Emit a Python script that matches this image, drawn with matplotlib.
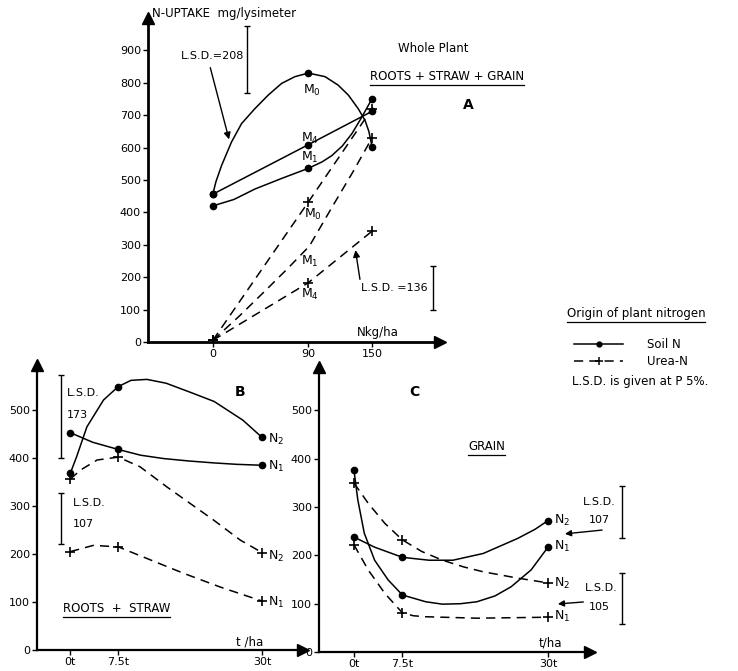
import matplotlib
matplotlib.use("Agg")
import matplotlib.pyplot as plt
from matplotlib.lines import Line2D

plt.rcParams['font.family'] = ['DejaVu Sans']
plt.rcParams['font.size'] = 8

# ---- panel A : whole plant, N-uptake (mg/lysimeter) vs N kg/ha
a_rates = [0, 90, 150]
a_soil_m0 = [456, 830, 603]
a_soil_m4 = [456, 609, 712]
a_soil_m1 = [420, 536, 751]
a_urea_m0 = [5, 432, 720]
a_urea_m4 = [5, 183, 342]
a_urea_m1_x = [0, 150]
a_urea_m1 = [5, 630]

# traced curve shapes between the measured points
a_soil_m0_cx = [0, 3, 8.2, 17.6, 27.1, 39.6, 52.2, 64.8, 77.4, 90,
                105.7, 118, 127.7, 137, 143.4, 147, 150]
a_soil_m0_cy = [456, 495, 544, 617, 674, 720, 762, 798, 819, 830,
                819, 793, 762, 720, 684, 650, 603]
a_soil_m1_cx = [0, 20, 39.6, 65, 90, 103, 112, 122, 131, 140, 150]
a_soil_m1_cy = [420, 440, 472, 505, 536, 556, 575, 605, 643, 692, 751]
a_urea_m1_cx = [0, 25, 50, 70, 91, 113, 132, 150]
a_urea_m1_cy = [5, 80, 160, 225, 296, 420, 525, 630]

# ---- panel B : roots + straw, vs t/ha
b_rates = [0, 7.5, 30]
b_soil_n2 = [368, 549, 443]
b_soil_n1 = [453, 418, 385]
b_urea_n2 = [356, 402, 203]
b_urea_n1 = [205, 215, 102]

b_soil_n2_cx = [0, 1, 2.6, 5.2, 7.5, 9.5, 12, 15, 19, 22.5, 27, 30]
b_soil_n2_cy = [368, 403, 465, 521, 549, 562, 564, 556, 536, 518, 479, 443]
b_soil_n1_cx = [0, 3.5, 7.5, 11, 14.6, 18.5, 22.4, 26, 30]
b_soil_n1_cy = [453, 433, 418, 406, 399, 394, 390, 387, 385]
b_urea_n2_cx = [0, 1.6, 4.2, 7.5, 10.9, 15.1, 18.8, 22.4, 26.6, 30]
b_urea_n2_cy = [356, 375, 396, 402, 382, 340, 305, 271, 229, 203]
b_urea_n1_cx = [0, 3.6, 7.5, 12.5, 17.7, 23.5, 30]
b_urea_n1_cy = [205, 218, 215, 188, 160, 131, 102]

# ---- panel C : grain, vs t/ha
c_rates = [0, 7.5, 30]
c_soil_n2 = [238, 196, 272]
c_soil_n1 = [377, 118, 217]
c_urea_n2 = [350, 232, 143]
c_urea_n1 = [222, 81, 72]

c_soil_n1_cx = [0, 0.6, 1.6, 3.2, 5.3, 7.5, 11.1, 13.7, 16.5, 19, 21.8, 24.3, 27.4, 30]
c_soil_n1_cy = [377, 315, 246, 190, 149, 118, 104, 99, 100, 104, 116, 135, 170, 217]
c_soil_n2_cx = [0, 3.2, 7.5, 11.6, 15.3, 20, 25.3, 28, 30]
c_soil_n2_cy = [238, 217, 196, 190, 190, 204, 235, 254, 272]
c_urea_n2_cx = [0, 2.2, 4.8, 7.5, 10.5, 13.7, 17, 20, 25.3, 30]
c_urea_n2_cy = [350, 308, 266, 232, 208, 190, 176, 166, 153, 143]
c_urea_n1_cx = [0, 2.2, 4.8, 7.5, 9.2, 11.1, 19, 30]
c_urea_n1_cy = [222, 170, 121, 81, 75, 73, 70, 72]

DASH = (0, (6, 4))


def curve(ax, x, y, dashed=False):
    ax.plot(x, y, color='k', lw=1.1, ls=DASH if dashed else '-',
            solid_joinstyle='round', dash_joinstyle='round')


def points(ax, x, y, marker, mfc='k'):
    if marker == 'o':
        ax.plot(x, y, ls='none', marker='o', ms=4.5, color='k', mfc=mfc)
    else:
        ax.plot(x, y, ls='none', marker='+', ms=7, mew=1.2, color='k')


def lsd_bar(ax, x, y, value):
    ax.errorbar([x], [y], yerr=[value / 2], color='k', lw=1.0,
                capsize=2.5, capthick=1.0, clip_on=False)


def axis_style(ax, lw, xlim, ylim):
    ax.set_xlim(*xlim)
    ax.set_ylim(*ylim)
    ax.patch.set_alpha(0)
    for s in ('top', 'right'):
        ax.spines[s].set_visible(False)
    for s in ('left', 'bottom'):
        ax.spines[s].set_linewidth(lw)
    ax.tick_params(direction='out', length=3.5, width=1, pad=1.5, labelsize=8)
    # arrow heads at axis ends
    ax.plot(1, 0, '>k', ms=9, transform=ax.transAxes, clip_on=False)
    ax.plot(0, 1, '^k', ms=9, transform=ax.transAxes, clip_on=False)


fig = plt.figure(figsize=(7.38, 6.71), dpi=100)
axA = fig.add_axes([148 / 738, 1 - 342 / 671, 292 / 738, 324 / 671])
axB = fig.add_axes([37 / 738, 1 - 650 / 671, 266 / 738, 285 / 671])
axC = fig.add_axes([319 / 738, 1 - 652 / 671, 271 / 738, 285 / 671])

underlined = []

# ---------------- panel A
axis_style(axA, 2.0, (-61, 214), (0, 1000))
axA.set_xticks(a_rates)
axA.set_yticks(range(0, 1000, 100))

curve(axA, a_soil_m0_cx, a_soil_m0_cy)
curve(axA, a_rates, a_soil_m4)
curve(axA, a_soil_m1_cx, a_soil_m1_cy)
for ys in (a_soil_m0, a_soil_m4, a_soil_m1):
    points(axA, a_rates, ys, 'o')
curve(axA, a_rates, a_urea_m0, dashed=True)
curve(axA, a_rates, a_urea_m4, dashed=True)
curve(axA, a_urea_m1_cx, a_urea_m1_cy, dashed=True)
points(axA, a_rates, a_urea_m0, '+')
points(axA, a_rates, a_urea_m4, '+')
points(axA, a_urea_m1_x, a_urea_m1, '+')

for txt, xx, yy in [('M$_0$', 93, 777), ('M$_4$', 91.5, 627), ('M$_1$', 91.5, 570),
                    ('M$_0$', 94, 394), ('M$_1$', 91.5, 249), ('M$_4$', 91.5, 146)]:
    axA.text(xx, yy, txt, ha='center', va='center', fontsize=9)

axA.text(-57, 1015, 'N-UPTAKE  mg/lysimeter', ha='left', va='center', fontsize=8.5)
axA.text(0, 882, 'L.S.D.=208', ha='center', va='center')
axA.annotate('', xy=(16, 617), xytext=(-3, 855),
             arrowprops=dict(arrowstyle='-|>', color='k', lw=1, mutation_scale=10))
lsd_bar(axA, 32, 871, 208)
axA.text(171, 168, 'L.S.D. =136', ha='center', va='center')
axA.annotate('', xy=(134, 292), xytext=(139, 185),
             arrowprops=dict(arrowstyle='-|>', color='k', lw=1, mutation_scale=10))
lsd_bar(axA, 207.5, 168, 136)
axA.text(207.5, 907, 'Whole Plant', ha='center', va='center', fontsize=8.5)
underlined.append(axA.text(220.8, 820, 'ROOTS + STRAW + GRAIN', ha='center',
                           va='center', fontsize=8.5))
axA.text(240.6, 733, 'A', ha='center', va='center', fontsize=10, fontweight='bold')
axA.text(155.7, 28, 'Nkg/ha', ha='center', va='center', fontsize=8.5)

# ---------------- panel B
axis_style(axB, 1.6, (-5.2, 36.4), (0, 594))
axB.set_xticks(b_rates)
axB.set_xticklabels(['0t', '7.5t', '30t'])
axB.set_yticks(range(0, 600, 100))

curve(axB, b_soil_n2_cx, b_soil_n2_cy)
curve(axB, b_soil_n1_cx, b_soil_n1_cy)
curve(axB, b_urea_n2_cx, b_urea_n2_cy, dashed=True)
curve(axB, b_urea_n1_cx, b_urea_n1_cy, dashed=True)
points(axB, b_rates, b_soil_n2, 'o')
points(axB, b_rates, b_soil_n1, 'o')
points(axB, b_rates, b_urea_n2, '+')
points(axB, b_rates, b_urea_n1, '+')

for txt, yy in [('N$_2$', 439), ('N$_1$', 382), ('N$_2$', 194), ('N$_1$', 100)]:
    axB.text(31.0, yy, txt, ha='left', va='center', fontsize=9)
lsd_bar(axB, -1.45, 486, 173)
axB.text(-0.6, 535, 'L.S.D.', ha='left', va='center')
axB.text(-0.6, 490, '173', ha='left', va='center')
lsd_bar(axB, -1.4, 274.5, 107)
axB.text(0.4, 306, 'L.S.D.', ha='left', va='center')
axB.text(0.4, 262, '107', ha='left', va='center')
axB.text(26.6, 538, 'B', ha='center', va='center', fontsize=10, fontweight='bold')
underlined.append(axB.text(7.2, 87, 'ROOTS  +  STRAW', ha='center', va='center',
                           fontsize=8.5))
axB.text(28.1, 16, 't /ha', ha='center', va='center', fontsize=8.5)

# ---------------- panel C
axis_style(axC, 1.6, (-5.4, 36.5), (0, 590))
axC.set_xticks(c_rates)
axC.set_xticklabels(['0t', '7.5t', '30t'])
axC.set_yticks(range(0, 600, 100))

curve(axC, c_soil_n1_cx, c_soil_n1_cy)
curve(axC, c_soil_n2_cx, c_soil_n2_cy)
curve(axC, c_urea_n2_cx, c_urea_n2_cy, dashed=True)
curve(axC, c_urea_n1_cx, c_urea_n1_cy, dashed=True)
points(axC, c_rates, c_soil_n1, 'o')
points(axC, c_rates, c_soil_n2, 'o')
points(axC, c_rates, c_urea_n2, '+')
points(axC, c_rates, c_urea_n1, '+')

for txt, yy in [('N$_2$', 273), ('N$_1$', 218), ('N$_2$', 142), ('N$_1$', 73)]:
    axC.text(30.9, yy, txt, ha='left', va='center', fontsize=9)
axC.text(9.3, 539, 'C', ha='center', va='center', fontsize=10, fontweight='bold')
underlined.append(axC.text(20.5, 426, 'GRAIN', ha='center', va='center', fontsize=8.5))
axC.text(30.3, 18, 't/ha', ha='center', va='center', fontsize=8.5)

axC.text(38, 311, 'L.S.D.', ha='center', va='center')
axC.text(38, 273, '107', ha='center', va='center')
lsd_bar(axC, 41.4, 289.5, 107)
axC.annotate('', xy=(32.2, 244), xytext=(38.8, 253),
             arrowprops=dict(arrowstyle='-|>', color='k', lw=1, mutation_scale=9))
axC.text(38.2, 132, 'L.S.D.', ha='center', va='center')
axC.text(38, 94, '105', ha='center', va='center')
lsd_bar(axC, 41.4, 111, 105)
axC.annotate('', xy=(31.1, 99), xytext=(35.9, 104),
             arrowprops=dict(arrowstyle='-|>', color='k', lw=1, mutation_scale=9))

# ---------------- key
underlined.append(fig.text(636 / 738, 1 - 313 / 671, 'Origin of plant nitrogen',
                           ha='center', va='center', fontsize=8.5))
handles = [Line2D([], [], color='k', lw=1.1, marker='o', ms=3.5),
           Line2D([], [], color='k', lw=1.1, ls=DASH, marker='+', ms=6, mew=1.1)]
fig.legend(handles, ['Soil N', 'Urea-N'], loc='upper left',
           bbox_to_anchor=(568 / 738, 1 - 332 / 671), frameon=False,
           handlelength=4.2, handletextpad=2.0, labelspacing=0.35,
           borderpad=0, fontsize=8.5)
fig.text(572 / 738, 1 - 382 / 671, 'L.S.D. is given at P 5%.', ha='left',
         va='center', fontsize=8.5)

# underline the headings
fig.canvas.draw()
inv = fig.transFigure.inverted()
for t in underlined:
    bb = t.get_window_extent().transformed(inv)
    fig.add_artist(Line2D([bb.x0, bb.x1], [bb.y0 - 0.003, bb.y0 - 0.003],
                          transform=fig.transFigure, color='k', lw=0.9))

fig.savefig('out.png', dpi=100)
